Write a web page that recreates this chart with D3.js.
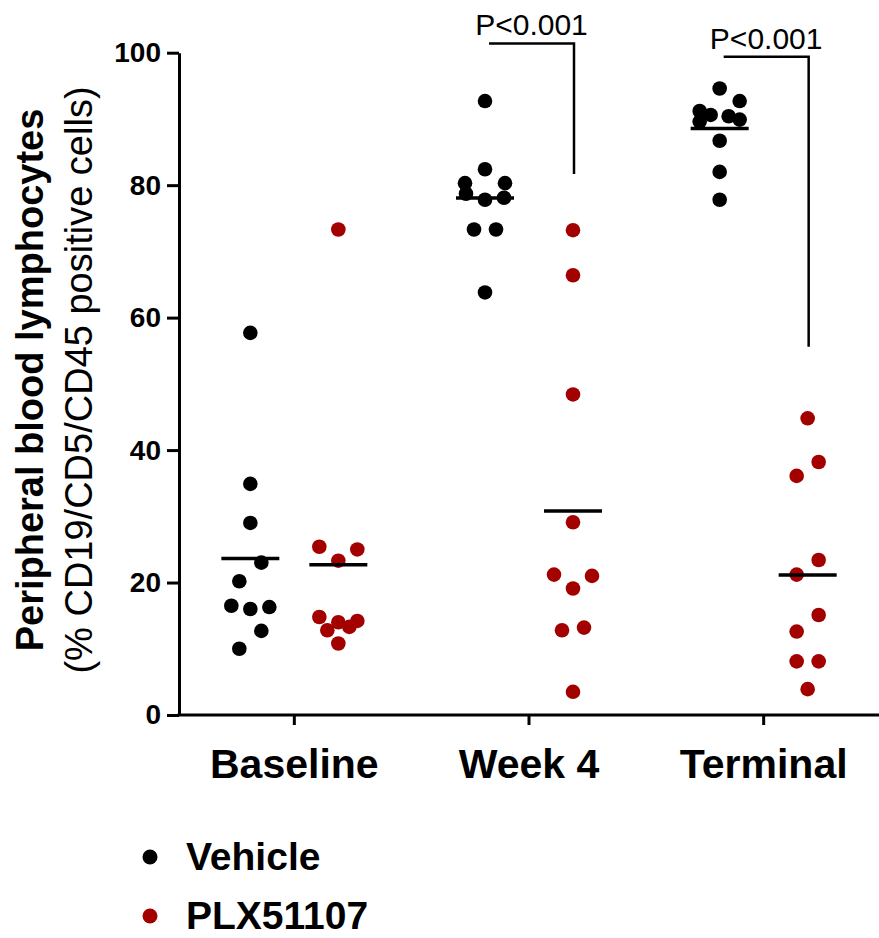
<!DOCTYPE html>
<html><head><meta charset="utf-8">
<script src="https://cdn.jsdelivr.net/npm/d3@7"></script>
<style>
body{margin:0;background:#fff}
svg{display:block}
text{font-family:"Liberation Sans",Arial,Helvetica,sans-serif}
</style>
</head><body>
<svg id="chart" width="879" height="938"></svg>
<script>
// ---------- data ----------
const categories = ["Baseline", "Week 4", "Terminal"];
const seriesNames = ["Vehicle", "PLX51107"];
const seriesColors = ["#000000", "#a30000"];

const vehicleBaseline = [57.7, 34.9, 29.0, 23.0, 20.2, 16.3, 16.0, 16.5, 12.7, 10.0];
const vehicleWeek4    = [92.7, 82.4, 80.3, 80.3, 78.7, 77.8, 78.1, 73.3, 73.3, 63.8];
const vehicleTerminal = [94.6, 92.7, 90.6, 90.4, 91.2, 89.6, 89.9, 86.7, 82.0, 77.8];

const plxBaseline = [73.3, 25.4, 25.0, 23.3, 14.8, 13.3, 14.2, 14.0, 12.8, 10.8];
const plxWeek4    = [73.2, 66.4, 48.4, 29.1, 21.2, 21.0, 19.1, 13.2, 12.8, 3.5];
const plxTerminal = [44.8, 38.2, 36.1, 23.4, 21.2, 15.1, 12.6, 8.1, 8.1, 3.9];

const seriesValues = [
  [vehicleBaseline, vehicleWeek4, vehicleTerminal],
  [plxBaseline, plxWeek4, plxTerminal]
];

const yTicks = [0, 20, 40, 60, 80, 100];

const sigCategories = ["Week 4", "Terminal"];
const sigLabels = ["P<0.001", "P<0.001"];
const sigTop = [101.4, 99.4];
const sigBottom = [81.7, 55.6];

const yTitleLine1 = "Peripheral blood lymphocytes";
const yTitleLine2 = "(% CD19/CD5/CD45 positive cells)";

// ---------- layout ----------
const svg = d3.select("#chart");
const x = d3.scaleBand().domain(categories).range([177, 881]);
const sub = d3.scalePoint().domain(seriesNames).range([-44, 44]);
const y = d3.scaleLinear().domain([0, 100]).range([715, 52.7]);
const R = 7.3;

// simple Prism-like column scatter layout
function swarm(values) {
  const pts = values.map(v => ({v, py: y(v), dx: 0})).sort((a, b) => a.v - b.v);
  const T = 13.25, MAXROW = 4;
  const clusters = [];
  let cur = [pts[0]];
  for (let i = 1; i < pts.length; i++) {
    if (pts[i - 1].py - pts[i].py < T) cur.push(pts[i]);
    else { clusters.push(cur); cur = [pts[i]]; }
  }
  clusters.push(cur);
  const rows = [];
  function split(c) {
    if (c.length <= MAXROW) { rows.push(c); return; }
    let gi = 1, gmax = -1;
    for (let i = 1; i < c.length; i++) {
      const g = c[i - 1].py - c[i].py;
      if (g > gmax) { gmax = g; gi = i; }
    }
    split(c.slice(0, gi)); split(c.slice(gi));
  }
  clusters.forEach(split);
  const patterns = {1: [0], 2: [-11, 11], 3: [0, 19, -19], 4: [-20, 20, 9, -9]};
  for (let i = 0; i < rows.length; i++) {
    const row = rows[i];
    const prev = rows[i - 1];
    const nearBig = (p) => prev && prev.length >= 3 && (prev[prev.length - 1].py - p.py) < 15;
    if (row.length === 1 && rows[i + 1] && rows[i + 1].length === 1 &&
        row[0].py - rows[i + 1][0].py < 22) {
      const w = nearBig(row[0]) ? 20 : 11;
      row[0].dx = -w; rows[i + 1][0].dx = w;
      i++;
      continue;
    }
    if (row.length === 2) {
      const w = nearBig(row[0]) ? 20 : 11;
      row[0].dx = -w; row[1].dx = w;
      continue;
    }
    const pat = patterns[row.length];
    row.forEach((p, k) => p.dx = pat[k]);
  }
  return pts;
}

// ---------- axes ----------
const yAxis = d3.axisLeft(y).tickValues(yTicks).tickSize(12).tickPadding(6).tickSizeOuter(0);
const gy = svg.append("g").attr("transform", "translate(179,0)").call(yAxis);
gy.select(".domain").attr("stroke", "#000").attr("stroke-width", 3);
gy.selectAll(".tick line").attr("stroke", "#000").attr("stroke-width", 3);
gy.selectAll(".tick text").attr("fill", "#000").attr("font-size", 28).attr("font-weight", "bold")
  .attr("font-family", "'Liberation Sans', Arial, sans-serif");

const xAxis = d3.axisBottom(x).tickSize(10).tickSizeOuter(0).tickPadding(22);
const gx = svg.append("g").attr("transform", "translate(0,715)").call(xAxis);
gx.select(".domain").attr("stroke", "#000").attr("stroke-width", 3).attr("d", "M177.5,0H879");
gx.selectAll(".tick line").attr("stroke", "#000").attr("stroke-width", 3);
gx.selectAll(".tick text").attr("fill", "#000").attr("font-size", 41).attr("font-weight", "bold")
  .attr("font-family", "'Liberation Sans', Arial, sans-serif").attr("dy", null).attr("y", 63);

// y title
const yt = svg.append("g").attr("transform", "translate(0,380) rotate(-90)");
yt.append("text").attr("x", 0).attr("y", 43).attr("text-anchor", "middle")
  .attr("font-size", 38).attr("font-weight", "bold").attr("fill", "#000").text(yTitleLine1);
yt.append("text").attr("x", 0).attr("y", 92).attr("text-anchor", "middle")
  .attr("font-size", 38).attr("fill", "#000").text(yTitleLine2);

// ---------- points ----------
const plot = svg.append("g");
seriesNames.forEach((s, si) => {
  categories.forEach((c, ci) => {
    const vals = seriesValues[si][ci];
    const cx = x(c) + x.bandwidth() / 2 + sub(s);
    const pts = swarm(vals);
    plot.append("g").selectAll("circle").data(pts).join("circle")
      .attr("cx", d => cx + d.dx).attr("cy", d => d.py).attr("r", R)
      .attr("fill", seriesColors[si]);
  });
});
// mean lines
seriesNames.forEach((s, si) => {
  categories.forEach((c, ci) => {
    const m = d3.mean(seriesValues[si][ci]);
    const cx = x(c) + x.bandwidth() / 2 + sub(s);
    plot.append("line").attr("x1", cx - 29).attr("x2", cx + 29)
      .attr("y1", y(m)).attr("y2", y(m)).attr("stroke", "#000").attr("stroke-width", 3.5);
  });
});

// ---------- significance brackets ----------
sigCategories.forEach((c, i) => {
  const c0 = x(c) + x.bandwidth() / 2;
  const xa = c0 + sub(seriesNames[0]) + 4;
  const xb = c0 + sub(seriesNames[1]) + 1;
  svg.append("path")
    .attr("d", `M${xa},${y(sigTop[i])}H${xb}V${y(sigBottom[i])}`)
    .attr("fill", "none").attr("stroke", "#000").attr("stroke-width", 2.5);
  svg.append("text").attr("x", (xa + xb) / 2).attr("y", y(sigTop[i]) - 8)
    .attr("text-anchor", "middle").attr("font-size", 30).attr("fill", "#000").text(sigLabels[i]);
});

// ---------- legend ----------
const leg = svg.append("g");
seriesNames.forEach((s, i) => {
  const gy0 = 857 + i * 59;
  leg.append("circle").attr("cx", 150).attr("cy", gy0).attr("r", 7.5).attr("fill", seriesColors[i]);
  leg.append("text").attr("x", 186).attr("y", gy0 + 13).attr("font-size", 39)
    .attr("font-weight", "bold").attr("fill", "#000").text(s);
});
</script>
</body></html>
